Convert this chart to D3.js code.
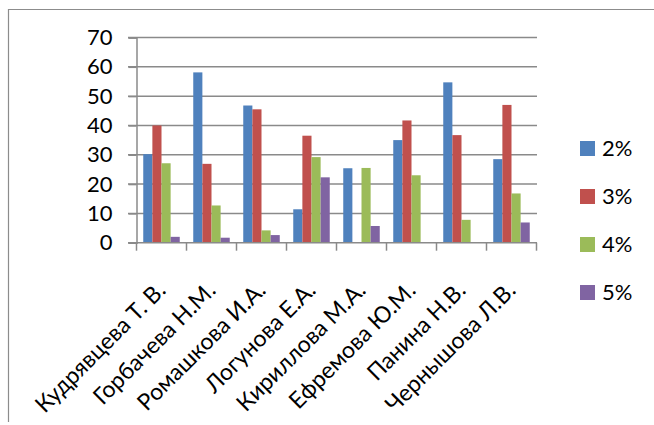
<!DOCTYPE html>
<html>
<head>
<meta charset="utf-8">
<script src="https://cdn.jsdelivr.net/npm/d3@7"></script>
<style>
    body { margin: 0; background: #fff; }
    text { font-family: Lato, "Liberation Sans", sans-serif; fill: #000; }
</style>
</head>
<body>
<svg width="654" height="425"></svg>
<script>
const teachers = ["Кудрявцева Т. В.", "Горбачева Н.М.", "Ромашкова И.А.", "Логунова Е.А.",
    "Кириллова М.А.", "Ефремова Ю.М.", "Панина Н.В.", "Чернышова Л.В."];
const seriesNames = ["2%", "3%", "4%", "5%"];
const p2 = [30.2, 58.1, 46.8, 11.4, 25.4, 35.0, 54.7, 28.5];
const p3 = [40.0, 26.9, 45.5, 36.5, 0.2, 41.7, 36.7, 47.0];
const p4 = [27.1, 12.7, 4.2, 29.2, 25.5, 23.0, 7.8, 16.8];
const p5 = [2.0, 1.7, 2.6, 22.3, 5.7, 0, 0, 6.9];
const yTicks = [0, 10, 20, 30, 40, 50, 60, 70];
const colors = ["#4F81BD", "#C0504D", "#9BBB59", "#8064A2"];

const series = [p2, p3, p4, p5];

const svg = d3.select("svg");

// chart frame: only its top and left edges are inside the picture
svg.append("path")
    .attr("d", "M8.5,422 V9.5 H654")
    .attr("fill", "none")
    .attr("stroke", "#8c8c8c")
    .attr("stroke-width", 1.2);

const x = d3.scaleBand()
    .domain(teachers)
    .range([136.5, 536.5])
    .paddingInner(0.27)
    .paddingOuter(0.135);

const xi = d3.scaleBand()
    .domain(d3.range(series.length))
    .range([0, x.bandwidth()]);

const y = d3.scaleLinear()
    .domain([0, 70])
    .range([242.7, 37.5]);

// gridlines
svg.append("g")
    .selectAll("line")
    .data(yTicks.slice(1))
    .join("line")
    .attr("x1", 128).attr("x2", 537)
    .attr("y1", d => y(d)).attr("y2", d => y(d))
    .attr("stroke", "#8a8a8a")
    .attr("stroke-width", 1.5);

// bars
const groups = svg.append("g")
    .selectAll("g")
    .data(series)
    .join("g")
    .attr("fill", (d, i) => colors[i]);

groups.selectAll("rect")
    .data((d, i) => d.map((v, j) => ({ v: v, name: teachers[j], s: i })))
    .join("rect")
    .attr("x", d => x(d.name) + xi(d.s))
    .attr("y", d => y(d.v))
    .attr("width", xi.bandwidth())
    .attr("height", d => y(0) - y(d.v));

// y axis
const yAxis = d3.axisLeft(y)
    .tickValues(yTicks)
    .tickSize(8)
    .tickPadding(16);

const gy = svg.append("g")
    .attr("transform", "translate(136.5,0)")
    .call(yAxis);
gy.select(".domain").attr("stroke", "#8a8a8a").attr("stroke-width", 1.5);
gy.selectAll(".tick line").attr("stroke", "#8a8a8a").attr("stroke-width", 1.5);
gy.selectAll(".tick text")
    .attr("font-size", 22)
    .attr("font-family", "Lato, 'Liberation Sans', sans-serif")
    .attr("fill", "#000");

// x axis
const xEdges = d3.range(teachers.length + 1).map(i => 136.5 + i * x.step());
const gx = svg.append("g");
gx.append("line")
    .attr("x1", 128).attr("x2", 537)
    .attr("y1", y(0)).attr("y2", y(0))
    .attr("stroke", "#8a8a8a")
    .attr("stroke-width", 1.5);
gx.selectAll("line.tk")
    .data(xEdges)
    .join("line")
    .attr("class", "tk")
    .attr("x1", d => d).attr("x2", d => d)
    .attr("y1", y(0)).attr("y2", y(0) + 8)
    .attr("stroke", "#8a8a8a")
    .attr("stroke-width", 1.5);

gx.selectAll("text")
    .data(teachers)
    .join("text")
    .attr("transform", d => `translate(${x(d) + x.bandwidth() / 2 + 5.5},${y(0) + 49}) rotate(-45)`)
    .attr("text-anchor", "end")
    .attr("font-size", 23)
    .text(d => d);

// legend
const legend = svg.append("g")
    .selectAll("g")
    .data(seriesNames)
    .join("g")
    .attr("transform", (d, i) => `translate(580,${141 + i * 48})`);

legend.append("rect")
    .attr("width", 15).attr("height", 15)
    .attr("fill", (d, i) => colors[i]);

legend.append("text")
    .attr("x", 22).attr("y", 15)
    .attr("font-size", 22)
    .text(d => d);
</script>
</body>
</html>
